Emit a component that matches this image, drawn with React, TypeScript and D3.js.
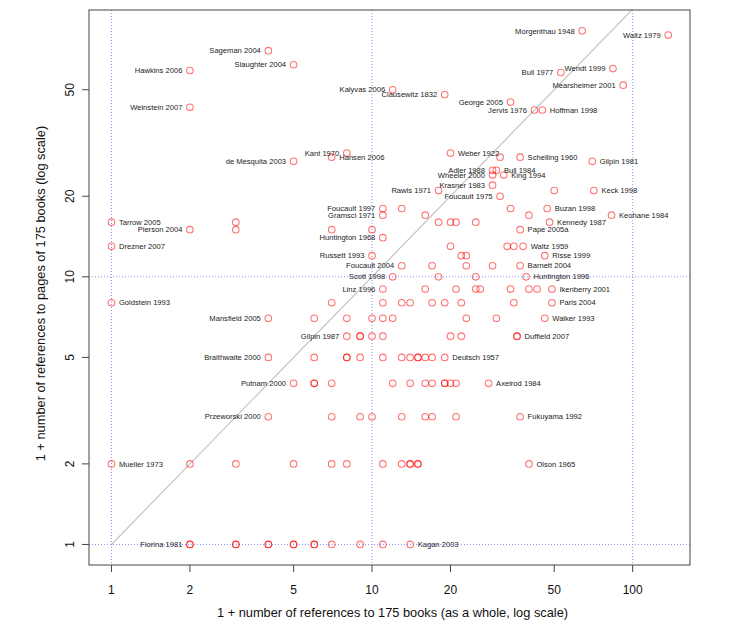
import React from "react";
import * as d3 from "d3";

// Labelled books: [name, x (1 + refs to books as a whole), y (1 + refs to pages), label side]
const labelNames = [
  "Sageman 2004","Slaughter 2004","Hawkins 2006","Weinstein 2007","de Mesquita 2003",
  "Kant 1970","Hansen 2006","Kalyvas 2006","Clausewitz 1832","George 2005","Jervis 1976",
  "Hoffman 1998","Morgenthau 1948","Waltz 1979","Bull 1977","Wendt 1999","Mearsheimer 2001",
  "Weber 1922","Schelling 1960","Gilpin 1981","Adler 1988","Bull 1984","Wheeler 2000",
  "King 1994","Krasner 1983","Rawls 1971","Foucault 1975","Keck 1998","Tarrow 2005",
  "Pierson 2004","Drezner 2007","Goldstein 1993","Mansfield 2005","Braithwaite 2000",
  "Foucault 1997","Gramsci 1971","Huntington 1968","Russett 1993","Foucault 2004",
  "Scott 1998","Linz 1996","Gilpin 1987","Deutsch 1957","Buzan 1998","Kennedy 1987",
  "Keohane 1984","Pape 2005a","Waltz 1959","Risse 1999","Barnett 2004","Huntington 1996",
  "Ikenberry 2001","Paris 2004","Walker 1993","Duffield 2007","Axelrod 1984",
  "Fukuyama 1992","Olson 1965","Putnam 2000","Przeworski 2000","Mueller 1973",
  "Fiorina 1981","Kagan 2003"
];
const labelX = [
  4,5,2,2,5, 8,7,12,19,34,42, 45,64,137,53,84,92, 20,37,70,29,30,29,
  32,29,18,31,71,1, 2,1,1,4,4, 11,11,11,10,13, 12,11,8,19,47,48,
  83,37,38,46,37,39, 49,49,46,36,28, 37,40,5,4,1, 2,14
];
const labelY = [
  70,62,59,43,27, 29,28,50,48,45,42, 42,83,80,58,60,52, 29,28,27,25,25,24,
  24,22,21,20,21,16, 15,13,8,7,5, 18,17,14,12,11, 10,9,6,5,18,16,
  17,15,13,12,11,10, 9,8,7,6,4, 3,2,4,3,2, 1,1
];
// "L" = text to the left of the point, "R" = to the right
const labelSide = [
  "L","L","L","L","L", "L","R","L","L","L","L", "R","L","L","L","L","L",
  "R","R","R","L","R","L", "R","L","L","L","R","R", "L","R","R","L","L",
  "L","L","L","L","L", "L","L","L","R","R","R", "R","R","R","R","R","R",
  "R","R","R","R","R", "R","R","L","L","R", "L","R"
];

// Unlabelled books (duplicates included where circles overplot)
const otherX = [
  3,3, 31,50, 13,16,18,20,21,25,34,40, 7,10,20,33,35,22,23,17,23,29,18,25,
  16,21,25,26,34,40,43,
  7,11,13,14,17,19,22,35,
  6,8,10,11,12,23,30,
  9,9,10,11,20,22,36,
  6,8,8,9,11,13,14,15,15,16,17,
  6,6,7,12,14,16,17,19,19,20,21,
  7,9,10,13,16,17,21,
  2,3,5,7,8,11,13,14,14,15,15,
  2,3,3,4,4,5,5,6,6,7,9,11
];
const otherY = [
  16,15, 28,21, 18,17,16,16,16,16,18,17, 15,15,13,13,13,12,12,11,11,11,10,10,
  9,9,9,9,9,9,9,
  8,8,8,8,8,8,8,8,
  7,7,7,7,7,7,7,
  6,6,6,6,6,6,6,
  5,5,5,5,5,5,5,5,5,5,5,
  4,4,4,4,4,4,4,4,4,4,4,
  3,3,3,3,3,3,3,
  2,2,2,2,2,2,2,2,2,2,2,
  1,1,1,1,1,1,1,1,1,1,1,1
];

const xTicks = [1, 2, 5, 10, 20, 50, 100];
const yTicks = [1, 2, 5, 10, 20, 50];
const xRefLines = [1, 10, 100];
const yRefLines = [1, 10];

const xTitle = "1 + number of references to 175 books (as a whole, log scale)";
const yTitle = "1 + number of references to pages of 175 books (log scale)";

export default function App() {
  const W = 735, H = 636;
  const left = 89, right = 690, top = 10, bottom = 565;
  const x = d3.scaleLog().domain([0.82, 166]).range([left, right]);
  const y = d3.scaleLog().domain([0.838, 99.3]).range([bottom, top]);
  const font = "'Liberation Sans', Arial, sans-serif";
  const ptColor = "rgba(255,0,0,0.55)";
  const refColor = "#8f8fff";

  const labelled = labelNames.map((n, i) => ({ n, x: labelX[i], y: labelY[i], s: labelSide[i] }));
  const others = otherX.map((v, i) => ({ x: v, y: otherY[i] }));

  return (
    <svg width={W} height={H} style={{ position: "absolute", left: 0, top: 0, background: "#fff" }} fontFamily={font}>
      <defs>
        <clipPath id="plotClip">
          <rect x={left} y={top} width={right - left} height={bottom - top} />
        </clipPath>
      </defs>
      <g clipPath="url(#plotClip)">
        {xRefLines.map((v) => (
          <line key={"xv" + v} x1={x(v)} x2={x(v)} y1={top} y2={bottom} stroke={refColor} strokeWidth={1} strokeDasharray="1,2" />
        ))}
        {yRefLines.map((v) => (
          <line key={"yh" + v} x1={left} x2={right} y1={y(v)} y2={y(v)} stroke={refColor} strokeWidth={1} strokeDasharray="1,2" />
        ))}
        <line x1={x(1)} y1={y(1)} x2={x(200)} y2={y(200)} stroke="#c4c4c4" strokeWidth={1.2} />
        {others.map((d, i) => (
          <circle key={"o" + i} cx={x(d.x)} cy={y(d.y)} r={3.3} fill="none" stroke={ptColor} strokeWidth={1.1} />
        ))}
        {labelled.map((d, i) => (
          <circle key={"l" + i} cx={x(d.x)} cy={y(d.y)} r={3.3} fill="none" stroke={ptColor} strokeWidth={1.1} />
        ))}
        {labelled.map((d, i) => (
          <text
            key={"t" + i}
            x={x(d.x) + (d.s === "L" ? -7.5 : 7.5)}
            y={y(d.y)}
            dy="0.35em"
            textAnchor={d.s === "L" ? "end" : "start"}
            fontSize={7.6}
            fill="#222"
          >
            {d.n}
          </text>
        ))}
      </g>
      <rect x={left} y={top} width={right - left} height={bottom - top} fill="none" stroke="#444" strokeWidth={1} />
      {xTicks.map((v) => (
        <g key={"xt" + v}>
          <line x1={x(v)} x2={x(v)} y1={bottom} y2={bottom + 7} stroke="#444" />
          <text x={x(v)} y={594} textAnchor="middle" fontSize={12} fill="#111">{v}</text>
        </g>
      ))}
      {yTicks.map((v) => (
        <g key={"yt" + v}>
          <line x1={left - 7} x2={left} y1={y(v)} y2={y(v)} stroke="#444" />
          <text transform={`translate(74,${y(v)}) rotate(-90)`} textAnchor="middle" fontSize={12} fill="#111">{v}</text>
        </g>
      ))}
      <text x={(left + right) / 2 + 3} y={617} textAnchor="middle" fontSize={12.8} fill="#111">{xTitle}</text>
      <text transform={`translate(45,${(top + bottom) / 2 + 6}) rotate(-90)`} textAnchor="middle" fontSize={12.8} fill="#111">{yTitle}</text>
    </svg>
  );
}
